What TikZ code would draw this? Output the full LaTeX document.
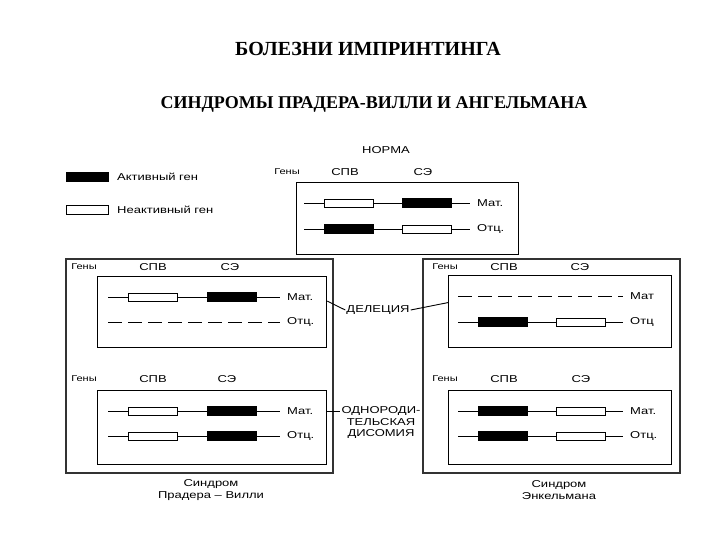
\documentclass[tikz,border=0pt]{standalone}
\usepackage{fontspec}
\setmainfont{Liberation Serif}
\newfontfamily\lblfont{Liberation Sans}[FakeStretch=1.3]
\usetikzlibrary{positioning}

\begin{document}
\begin{tikzpicture}[x=1pt, y=-1pt,
  ttl/.style={font=\fontsize{18}{21}\selectfont\bfseries, inner sep=0pt},
  lbl/.style={font=\lblfont\fontsize{10}{12}\selectfont, inner sep=1pt},
  hdr/.style={font=\lblfont\fontsize{10}{12}\selectfont, inner sep=1pt},
  gns/.style={font=\lblfont\fontsize{8.5}{10}\selectfont, inner sep=1pt},
  act/.style={draw, fill=black, minimum width=49pt, minimum height=9pt, inner sep=0pt, line width=0.8pt},
  inact/.style={draw, fill=white, minimum width=49pt, minimum height=8pt, inner sep=0pt, line width=0.9pt},
  chrom/.style={line width=0.9pt},
  gap/.style={line width=0.9pt, dash pattern=on 14pt off 6pt},
  inbox/.style={draw, line width=1.2pt, anchor=north west, inner sep=0pt},
  outbox/.style={draw, black!80, line width=1.5pt, anchor=north west, inner sep=0pt},
]
  \fill[white] (0,0) rectangle (720,540);
  \useasboundingbox (0,0) rectangle (720,540);

  % --- titles ---
  \node[ttl, font=\fontsize{20}{23}\selectfont\bfseries] (title) at (368,49) {БОЛЕЗНИ ИМПРИНТИНГА};
  \node[ttl] (subtitle) at (374,104) {СИНДРОМЫ ПРАДЕРА-ВИЛЛИ И АНГЕЛЬМАНА};

  % --- legend ---
  \node[act, minimum width=42pt, minimum height=9pt, anchor=west] (legact) at (66,177) {};
  \node[lbl, anchor=west] (legacttxt) at (116,177) {Активный ген};
  \node[inact, minimum width=42pt, minimum height=9pt, anchor=west] (leginact) at (66,210) {};
  \node[lbl, anchor=west] (leginacttxt) at (116,210) {Неактивный ген};

  % --- norm ---
  \node[hdr] (norm) at (386,150) {НОРМА};
  \begin{scope}[shift={(296,182)}]
    \node[inbox, minimum width=222pt, minimum height=72pt] (nbox) at (0,0) {};
    \node[gns] (ngen) at (-9,-10) {Гены};
    \node[hdr] (nspv) at (49,-10) {СПВ};
    \node[hdr] (nse) at (127,-10) {СЭ};
    \coordinate (nm0) at (8,21); \coordinate (nm1) at (174,21);
    \coordinate (no0) at (8,47); \coordinate (no1) at (174,47);
    \draw[chrom] (nm0) -- (nm1); \draw[chrom] (no0) -- (no1);
    \node[inact] (nmspv) at (53,21) {}; \node[act] (nmse) at (131,21) {};
    \node[act] (nospv) at (53,47) {}; \node[inact] (nose) at (131,47) {};
    \node[lbl, anchor=west] (nmlab) at (180,21) {Мат.};
    \node[lbl, anchor=west] (nolab) at (180,47) {Отц.};
  \end{scope}

  % --- outer frames ---
  \node[outbox, minimum width=267pt, minimum height=214pt] (pwframe) at (65,258) {};
  \node[outbox, minimum width=257pt, minimum height=214pt] (asframe) at (422,258) {};

  % --- Prader-Willi: deletion ---
  \begin{scope}[shift={(97,276)}]
    \node[inbox, minimum width=229pt, minimum height=71pt] (ltbox) at (0,0) {};
    \node[gns] (ltgen) at (-13,-9) {Гены};
    \node[hdr] (ltspv) at (56,-9) {СПВ};
    \node[hdr] (ltse) at (133,-9) {СЭ};
    \coordinate (ltm0) at (11,21); \coordinate (ltm1) at (183,21);
    \coordinate (lto0) at (11,46); \coordinate (lto1) at (183,46);
    \draw[chrom] (ltm0) -- (ltm1); \draw[gap] (lto0) -- (lto1);
    \node[inact] (ltmspv) at (56,21) {}; \node[act] (ltmse) at (135,21) {};
    \node[lbl, anchor=west] (ltmlab) at (189,21) {Мат.};
    \node[lbl, anchor=west] (ltolab) at (189,46) {Отц.};
  \end{scope}

  % --- Prader-Willi: disomy ---
  \begin{scope}[shift={(97,390)}]
    \node[inbox, minimum width=229pt, minimum height=74pt] (lbbox) at (0,0) {};
    \node[gns] (lbgen) at (-13,-11) {Гены};
    \node[hdr] (lbspv) at (56,-11) {СПВ};
    \node[hdr] (lbse) at (130,-11) {СЭ};
    \coordinate (lbm0) at (11,21); \coordinate (lbm1) at (183,21);
    \coordinate (lbo0) at (11,46); \coordinate (lbo1) at (183,46);
    \draw[chrom] (lbm0) -- (lbm1); \draw[chrom] (lbo0) -- (lbo1);
    \node[inact] (lbmspv) at (56,21) {}; \node[act] (lbmse) at (135,21) {};
    \node[inact] (lbospv) at (56,46) {}; \node[act] (lbose) at (135,46) {};
    \node[lbl, anchor=west] (lbmlab) at (189,21) {Мат.};
    \node[lbl, anchor=west] (lbolab) at (189,46) {Отц.};
  \end{scope}

  % --- Angelman: deletion ---
  \begin{scope}[shift={(448,275)}]
    \node[inbox, minimum width=223pt, minimum height=72pt] (rtbox) at (0,0) {};
    \node[gns] (rtgen) at (-3,-8) {Гены};
    \node[hdr] (rtspv) at (56,-8) {СПВ};
    \node[hdr] (rtse) at (132,-8) {СЭ};
    \coordinate (rtm0) at (10,21); \coordinate (rtm1) at (175,21);
    \coordinate (rto0) at (10,47); \coordinate (rto1) at (175,47);
    \draw[gap] (rtm0) -- (rtm1); \draw[chrom] (rto0) -- (rto1);
    \node[act] (rtospv) at (55,47) {}; \node[inact] (rtose) at (133,47) {};
    \node[lbl, anchor=west] (rtmlab) at (181,21) {Мат};
    \node[lbl, anchor=west] (rtolab) at (181,47) {Отц};
  \end{scope}

  % --- Angelman: disomy ---
  \begin{scope}[shift={(448,390)}]
    \node[inbox, minimum width=223pt, minimum height=74pt] (rbbox) at (0,0) {};
    \node[gns] (rbgen) at (-3,-11) {Гены};
    \node[hdr] (rbspv) at (56,-11) {СПВ};
    \node[hdr] (rbse) at (133,-11) {СЭ};
    \coordinate (rbm0) at (10,21); \coordinate (rbm1) at (175,21);
    \coordinate (rbo0) at (10,46); \coordinate (rbo1) at (175,46);
    \draw[chrom] (rbm0) -- (rbm1); \draw[chrom] (rbo0) -- (rbo1);
    \node[act] (rbmspv) at (55,21) {}; \node[inact] (rbmse) at (133,21) {};
    \node[act] (rbospv) at (55,46) {}; \node[inact] (rbose) at (133,46) {};
    \node[lbl, anchor=west] (rbmlab) at (181,21) {Мат.};
    \node[lbl, anchor=west] (rbolab) at (181,46) {Отц.};
  \end{scope}

  % --- middle labels ---
  \node[lbl] (del) at (378,310) {ДЕЛЕЦИЯ};
  \draw[chrom] ([yshift=11pt]ltbox.east) -- (del.west);
  \draw[chrom] (del.east) -- ([yshift=9pt]rtbox.west);
  \node[lbl] (upd1) at (381,411) {ОДНОРОДИ-};
  \node[lbl, below=1pt of upd1] (upd2) {ТЕЛЬСКАЯ};
  \node[lbl, below=1pt of upd2] (upd3) {ДИСОМИЯ};
  \draw[chrom] (lbbox.east |- upd1) -- (upd1.west);

  % --- captions ---
  \node[lbl, align=center] (pwcap) at (211,490) {Синдром\\Прадера – Вилли};
  \node[lbl, align=center] (ascap) at (559,490) {Синдром\\Энкельмана};
\end{tikzpicture}
\end{document}
